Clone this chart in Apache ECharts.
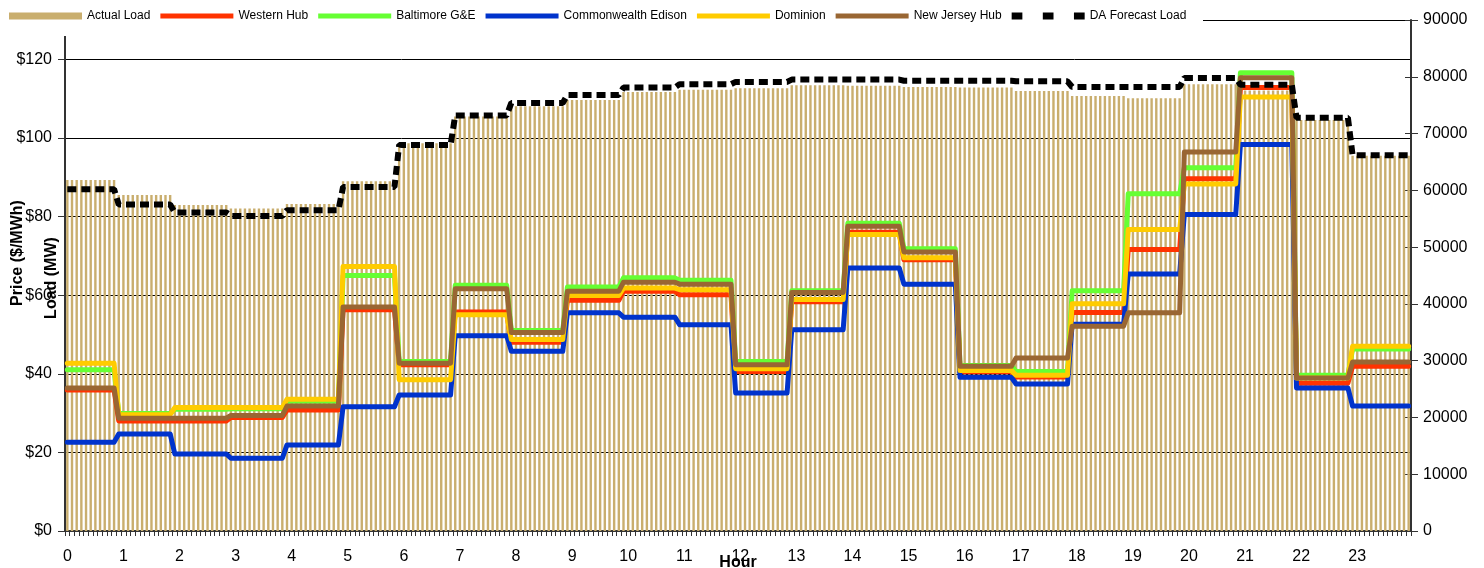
<!DOCTYPE html>
<html><head><meta charset="utf-8">
<script src="https://cdn.jsdelivr.net/npm/echarts@6/dist/echarts.min.js"></script>
<style>html,body{margin:0;padding:0;background:#fff}#c{width:1484px;height:568px}</style>
</head><body><div id="c"></div>
<script>
// Hourly values (hour 0..23)
const hourLabels = ['0','1','2','3','4','5','6','7','8','9','10','11','12','13','14','15','16','17','18','19','20','21','22','23'];
const actualLoad = [61800, 59200, 57400, 56800, 57600, 61600, 68300, 73000, 74800, 75900, 77300, 77700, 78000, 78500, 78400, 78200, 78100, 77500, 76600, 76200, 78700, 77600, 72400, 66100];
const daForecastLoad = [60200, 57500, 56100, 55500, 56500, 60600, 68000, 73200, 75400, 76800, 78100, 78700, 79100, 79500, 79500, 79300, 79300, 79200, 78200, 78200, 79800, 78600, 72800, 66200];
const westernHub = [35.9, 28.0, 28.0, 28.9, 30.8, 56.3, 42.3, 55.7, 48.0, 58.7, 61.0, 60.1, 40.6, 58.3, 76.0, 69.0, 40.5, 39.2, 55.6, 71.6, 89.6, 112.8, 37.6, 41.9];
const baltimoreGE = [41.0, 29.9, 31.0, 31.1, 33.0, 65.0, 43.1, 62.5, 51.0, 62.1, 64.4, 63.8, 43.1, 61.1, 78.3, 71.8, 42.1, 40.6, 61.1, 85.8, 92.4, 116.6, 39.6, 46.3];
const comEd = [22.6, 24.7, 19.6, 18.5, 21.9, 31.6, 34.6, 49.7, 45.7, 55.5, 54.4, 52.5, 35.1, 51.2, 66.9, 62.8, 39.1, 37.4, 52.6, 65.4, 80.5, 98.3, 36.4, 31.8];
const dominion = [42.7, 29.6, 31.4, 31.4, 33.5, 67.3, 38.5, 55.0, 48.7, 59.9, 61.8, 61.4, 41.3, 58.9, 75.4, 69.5, 40.8, 39.6, 57.8, 76.7, 88.3, 110.4, 38.9, 47.0];
const newJerseyHub = [36.4, 28.7, 28.7, 29.4, 31.8, 57.0, 42.7, 61.6, 50.5, 61.0, 63.3, 62.8, 42.3, 60.7, 77.5, 71.0, 41.9, 44.0, 52.1, 55.5, 96.4, 115.3, 38.9, 43.0];
const priceTicks = [0, 20, 40, 60, 80, 100, 120];
const loadTicks = [0, 10000, 20000, 30000, 40000, 50000, 60000, 70000, 80000, 90000];

// 5-minute slots across the day (12 per hour)
const slots = [];
for (let i = 0; i < 288; i++) { const m = i * 5; slots.push(Math.floor(m / 60) + ':' + String(m % 60).padStart(2, '0')); }
// each hourly value is shown on the 5-minute slots belonging to that hour
function perSlot(hourly) { return slots.map((_, i) => hourly[Math.min(23, Math.floor((i + 1) / 12))]); }

const FONT = 'Liberation Sans, Arial, sans-serif';
const TAN = '#C9AE6E';
const chart = echarts.init(document.getElementById('c'), null, { renderer: 'canvas' });

function lineSeries(name, data, color) {
  return { name, type: 'line', data: perSlot(data), yAxisIndex: 0, symbol: 'none', animation: false, silent: true,
    lineStyle: { color, width: 5, cap: 'round', join: 'round' }, itemStyle: { color } };
}
const lineIcon = 'path://M0,0L73,0L73,5L0,5Z';
chart.setOption({
  animation: false,
  textStyle: { fontFamily: FONT },
  grid: { left: 65, right: 73, top: 20, bottom: 37, containLabel: false },
  legend: {
    left: 9, top: 10, padding: 0, itemGap: 10, itemWidth: 73, itemHeight: 7,
    textStyle: { fontSize: 12, color: '#000', fontFamily: FONT },
    itemStyle: { borderWidth: 0 },
    selectedMode: false,
    data: [
      { name: 'Actual Load', icon: 'rect' },
      { name: 'Western Hub', icon: lineIcon },
      { name: 'Baltimore G&E', icon: lineIcon },
      { name: 'Commonwealth Edison', icon: lineIcon },
      { name: 'Dominion', icon: lineIcon },
      { name: 'New Jersey Hub', icon: lineIcon },
      { name: 'DA Forecast Load', icon: 'path://M0,0h11v7h-11z M32,0h11v7h-11z M64,0h11v7h-11z' }
    ]
  },
  xAxis: {
    type: 'category', data: slots, boundaryGap: true,
    axisLine: { lineStyle: { color: '#333', width: 2 } },
    axisTick: { show: true, interval: 0, length: 5, lineStyle: { color: '#333' } },
    axisLabel: { interval: (i) => i % 12 === 0, formatter: (v, i) => hourLabels[Math.floor(i / 12)],
      fontSize: 16, color: '#000', margin: 18, fontFamily: FONT },
    splitLine: { show: false }
  },
  yAxis: [
    { type: 'value', min: 0, max: 130, interval: 20, position: 'left',
      axisLine: { show: true, lineStyle: { color: '#333', width: 2 } },
      axisTick: { show: true, length: 7, lineStyle: { color: '#333' } },
      axisLabel: { formatter: (v) => priceTicks.includes(v) ? '$' + v : '', fontSize: 16, color: '#000', margin: 13, fontFamily: FONT },
      splitLine: { show: true, lineStyle: { color: '#000', width: 1 } } },
    { type: 'value', min: 0, max: 90000, interval: 10000, position: 'right',
      axisLine: { show: true, lineStyle: { color: '#333', width: 2 } },
      axisTick: { show: true, length: 7, lineStyle: { color: '#333' } },
      axisLabel: { formatter: (v) => loadTicks.includes(v) ? String(v) : '', fontSize: 16, color: '#000', margin: 12, fontFamily: FONT },
      splitLine: { show: false } },
    { type: 'value', min: 0, max: 90000, interval: 10000, position: 'right',
      axisLine: { show: false }, axisLabel: { show: false }, splitLine: { show: false },
      axisTick: { show: true, inside: true, length: 6, lineStyle: { color: '#333' } } }
  ],
  graphic: [
    { type: 'rect', z: 3, shape: { x: 0, y: 0, width: 1203, height: 36 }, style: { fill: '#fff' }, silent: true },
    { type: 'text', z: 5, x: 18, y: 253, rotation: Math.PI / 2,
      style: { text: 'Price ($/MWh)', fontSize: 16, fontWeight: 'bold', fontFamily: FONT, fill: '#000', align: 'center', verticalAlign: 'middle' } },
    { type: 'text', z: 5, x: 52, y: 278, rotation: Math.PI / 2,
      style: { text: 'Load (MW)', fontSize: 16, fontWeight: 'bold', fontFamily: FONT, fill: '#000', align: 'center', verticalAlign: 'middle' } },
    { type: 'text', z: 5, x: 738, y: 563,
      style: { text: 'Hour', fontSize: 16, fontWeight: 'bold', fontFamily: FONT, fill: '#000', align: 'center', verticalAlign: 'middle' } }
  ],
  series: [
    { name: 'Actual Load', type: 'bar', yAxisIndex: 1, data: perSlot(actualLoad), barWidth: 2.4,
      itemStyle: { color: TAN }, silent: true, animation: false, z: 1 },
    lineSeries('Western Hub', westernHub, '#FF3300'),
    lineSeries('Baltimore G&E', baltimoreGE, '#66FF33'),
    lineSeries('Commonwealth Edison', comEd, '#0033CC'),
    lineSeries('Dominion', dominion, '#FFCC00'),
    lineSeries('New Jersey Hub', newJerseyHub, '#996633'),
    { name: 'DA Forecast Load', type: 'line', yAxisIndex: 1, data: perSlot(daForecastLoad), symbol: 'none', silent: true,
      animation: false, lineStyle: { color: '#000', width: 6, type: [9, 5], cap: 'butt' }, itemStyle: { color: '#000' } }
  ]
});
</script></body></html>
